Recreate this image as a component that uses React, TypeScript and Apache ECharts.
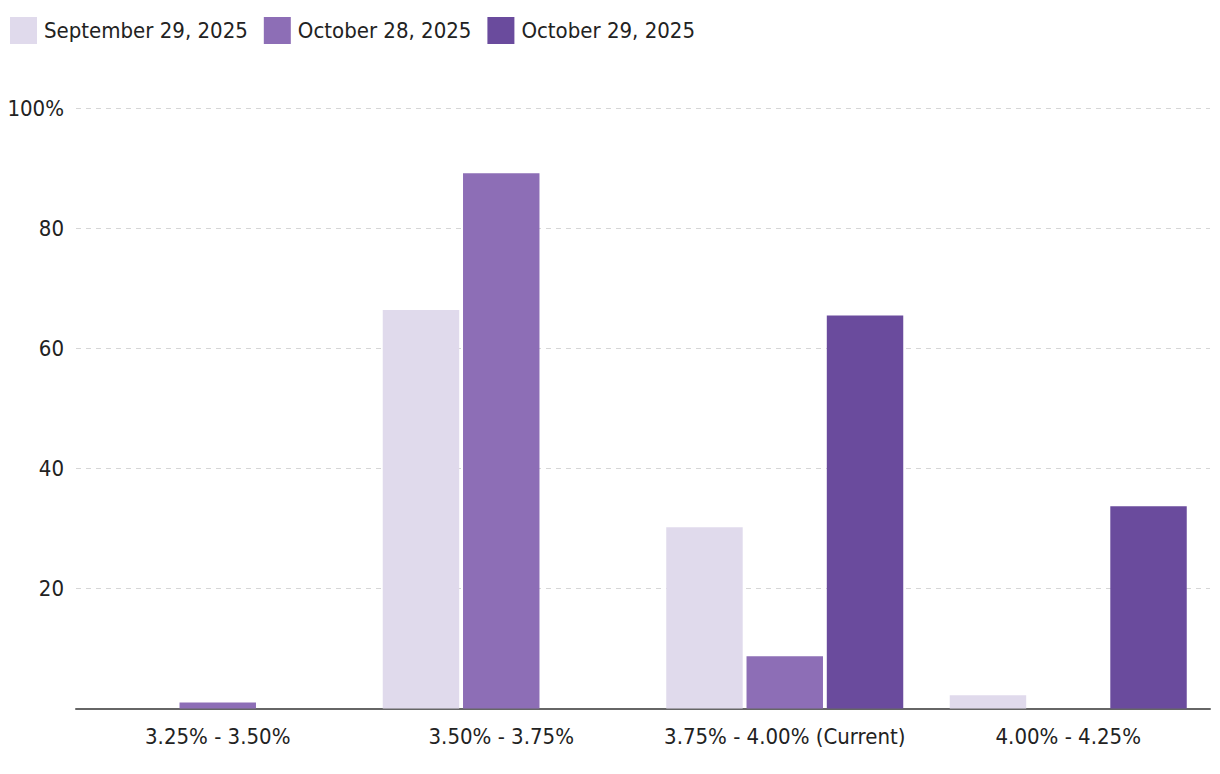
import React, { useEffect, useRef } from "react";
import * as echarts from "echarts";

const categories = ["3.25% - 3.50%", "3.50% - 3.75%", "3.75% - 4.00% (Current)", "4.00% - 4.25%"];
const seriesNames = ["September 29, 2025", "October 28, 2025", "October 29, 2025"];
const sep29 = [0, 66.4, 30.2, 2.2];
const oct28 = [1.0, 89.2, 8.7, 0];
const oct29 = [0, 0, 65.5, 33.7];
const colors = ["#E0DAEC", "#8D6EB6", "#6A4B9D"];
const yTicks = [0, 20, 40, 60, 80, 100];

const FONT = "'Liberation Sans Narrow', 'DejaVu Sans Condensed', 'Roboto', sans-serif";

export default function App() {
  const ref = useRef<HTMLDivElement>(null);
  useEffect(() => {
    document.body.style.margin = "0";
    const chart = echarts.init(ref.current!, null, { renderer: "svg" });
    const values = [sep29, oct28, oct29];
    chart.setOption({
      animation: false,
      textStyle: { fontFamily: FONT },
      legend: {
        left: 5,
        top: 12,
        itemWidth: 27,
        itemHeight: 27,
        itemGap: 16,
        icon: "rect",
        textStyle: { fontFamily: FONT, fontSize: 22, color: "#222", padding: [0, 0, 0, 2] },
        data: seriesNames,
      },
      grid: { left: 76, right: 10, top: 108.5, bottom: 65.5, outerBoundsMode: "none", containLabel: false },
      xAxis: {
        type: "category",
        data: categories,
        axisLine: { show: true, lineStyle: { color: "#666", width: 2 } },
        axisTick: { show: false },
        axisLabel: { fontFamily: FONT, fontSize: 22, color: "#222", margin: 17, interval: 0 },
      },
      yAxis: {
        type: "value",
        min: yTicks[0],
        max: yTicks[yTicks.length - 1],
        interval: 20,
        axisLine: { show: false },
        axisTick: { show: false },
        splitLine: { show: true, lineStyle: { color: "#d6d6d6", type: [5, 5], width: 1 } },
        axisLabel: {
          fontFamily: FONT,
          fontSize: 22,
          color: "#222",
          margin: 12,
          formatter: (v: number) => (v === 0 ? "" : v === 100 ? "100%" : String(v)),
        },
      },
      series: seriesNames.map((name, i) => ({
        name,
        type: "bar",
        data: values[i],
        barGap: "5%",
        barCategoryGap: "16.4%",
        itemStyle: { color: colors[i] },
      })),
    });
    return () => chart.dispose();
  }, []);
  return <div ref={ref} style={{ position: "absolute", left: 0, top: 0, width: 1220, height: 774 }} />;
}
